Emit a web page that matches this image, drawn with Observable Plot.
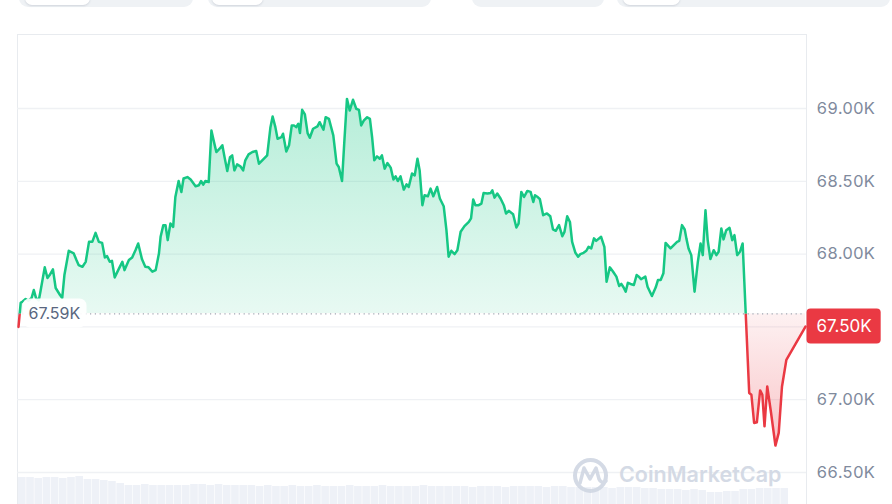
<!DOCTYPE html>
<html><head><meta charset="utf-8">
<script src="https://cdn.jsdelivr.net/npm/d3@7"></script>
<script src="https://cdn.jsdelivr.net/npm/@observablehq/plot@0.6"></script>
<style>
html,body{margin:0;padding:0;background:#fff;}
#wrap{position:relative;width:892px;height:504px;overflow:hidden;font-family:Inter,sans-serif;}
.tab{position:absolute;top:-12px;height:19px;background:#eff2f5;border-radius:9px;}
.pill{position:absolute;top:-12px;height:17px;background:#fff;border-radius:7px;box-shadow:0 1px 2px rgba(88,102,126,0.2);}
#vol{position:absolute;left:0;top:472px;}
#main{position:absolute;left:0;top:0;}
</style></head><body>
<div id="wrap">
  <div class="tab" style="left:19px;width:174px"></div><div class="pill" style="left:25px;width:65px"></div>
  <div class="tab" style="left:208px;width:223px"></div><div class="pill" style="left:212px;width:51px"></div>
  <div class="tab" style="left:472px;width:132px"></div>
  <div class="tab" style="left:617px;width:273px"></div><div class="pill" style="left:623px;width:57px"></div>
  <div id="vol"></div>
  <div id="main"></div>
</div>
<script>
// time in minutes since start of the 24h window
const minutes = [0,4,7,13,18,24,28,32,37,40,48,53,57,63,68,76,80,84,92,101,106,110,117,123,129,135,141,147,153,158,162,167,171,176,184,190,194,202,208,214,219,226,232,238,245,251,257,260,265,269,273,278,283,287,293,298,302,309,315,324,330,334,338,342,348,353,357,362,368,373,377,382,387,391,395,400,406,411,415,421,428,435,440,446,455,461,465,470,474,481,484,490,495,500,504,508,512,515,519,524,529,533,539,547,551,558,562,568,576,582,586,592,596,601,606,612,618,623,627,632,638,643,647,651,656,661,665,670,675,681,686,690,694,699,705,710,714,720,725,730,734,739,743,749,754,759,766,771,778,783,787,792,798,803,809,816,824,828,832,836,842,847,851,858,864,867,871,876,882,888,892,897,905,911,915,920,925,931,937,942,945,950,954,960,967,973,978,983,989,995,999,1004,1009,1013,1019,1024,1028,1034,1039,1043,1048,1053,1057,1066,1072,1076,1082,1088,1094,1099,1103,1107,1111,1115,1120,1126,1131,1135,1139,1147,1151,1159,1166,1170,1175,1180,1184,1193,1199,1205,1209,1214,1219,1222,1226,1231,1237,1243,1248,1252,1257,1261,1266,1272,1277,1281,1286,1290,1295,1301,1306,1310,1315,1320,1325,1337,1341,1346,1351,1357,1361,1365,1370,1377,1385,1391,1397,1405,1440];
// price in USD
const prices = [67500,67665,67673,67692,67680,67699,67753,67699,67682,67740,67909,67836,67856,67895,67767,67719,67699,67856,68023,68005,67959,67925,67913,67947,68084,68084,68146,68084,68077,67977,67986,67947,67954,67840,67902,67947,67890,67959,67977,68027,68073,67964,67913,67909,67879,67890,68005,68119,68199,68199,68096,68210,68187,68392,68502,68427,68519,68529,68512,68466,68473,68502,68477,68502,68495,68849,68781,68701,68724,68747,68666,68571,68666,68678,68575,68616,68603,68575,68644,68685,68701,68708,68621,68644,68678,68872,68945,68872,68792,68803,68827,68705,68747,68884,68884,68872,68895,68831,68991,68959,68831,68799,68861,68877,68906,68854,68940,68929,68815,68621,68598,68502,68760,69066,68986,69060,68998,68991,68884,68918,68940,68929,68803,68644,68671,68655,68678,68587,68625,68594,68512,68534,68502,68534,68443,68479,68461,68553,68541,68655,68575,68336,68404,68397,68450,68397,68461,68382,68329,68164,67982,68023,68000,68027,68153,68192,68221,68245,68375,68336,68336,68347,68420,68416,68420,68438,68388,68416,68382,68336,68279,68297,68274,68183,68210,68427,68392,68434,68427,68358,68404,68392,68377,68267,68279,68260,68169,68160,68199,68123,68153,68260,68221,68084,68009,67982,68000,68009,68023,68050,68039,68108,68091,68119,68050,67810,67909,67879,67845,67781,67795,67772,67742,67803,67795,67788,67856,67845,67827,67845,67776,67712,67772,67822,67822,67868,68077,68039,68062,68084,68091,68199,68169,68108,68039,67993,67742,67947,68073,67993,68301,68096,67966,68027,67993,68016,68176,68101,68164,68180,68096,68130,67993,68016,68073,67046,67034,66840,66845,67064,67034,66817,67091,66909,66685,66772,67091,67274,67502];
const baseline = 67590;   // opening price "67.59K"
const lastPrice = 67502;  // current price "67.50K"
const gridTicks = [66500,67000,67500,68000,68500,69000];
const labelTicks = [66500,67000,68000,68500,69000]; // 67.50K is hidden under the price tag
// volume per 15-minute bucket (relative units)
const volume = [27,27,26,27,27,26,27,28,25,25,24,23,21,19,19,20,19,19,19,19,19,20,20,19,20,19,19,19,
  19,18,19,18,18,19,18,18,19,18,18,18,19,18,18,18,19,18,18,18,18,19,18,18,
  18,18,18,17,18,18,18,17,18,18,18,18,17,18,18,
  17,17,17,17,17,16,17,17,17,16,16,
  15,15,15,14,15,14,
  12,12,13,13,
  15,15,16,16,
  16,16];

const green = "#16c784", red = "#ea3943";
const data = minutes.map((t,i)=>({t, p: prices[i]}));
const fmtK = d => (d/1000).toFixed(2) + "K";

// volume strip
const volData = volume.map((v,i)=>({t0:i*15, t1:i*15+15, v}));
const volChart = Plot.plot({
  width: 892, height: 32, margin: 0,
  style:{background:"transparent"},
  x:{domain:[0,1440], range:[18,805], axis:null},
  y:{domain:[0,32], range:[32,0], axis:null},
  marks:[ Plot.rectY(volData,{x1:"t0", x2:"t1", y:"v", fill:"#eef1f7", insetRight:0.6}) ]
});
document.getElementById("vol").appendChild(volChart);

const chart = Plot.plot({
  width: 892, height: 506,
  marginTop: 34, marginRight: 86, marginBottom: 0, marginLeft: 17,
  style:{fontFamily:"Inter, sans-serif", fontSize:"16px", background:"transparent", overflow:"visible"},
  x:{domain:[0,1440], range:[18,805], axis:null},
  y:{domain:[66500,69000], range:[472,108], axis:null},
  marks:[
    Plot.frame({stroke:"#e8ebef"}),
    Plot.ruleY(gridTicks,{stroke:"#eff1f4", strokeWidth:1.3}),
    Plot.areaY(data,{x:"t", y1:baseline, y2:"p", fill:"url(#gradUp)"}),
    Plot.areaY(data,{x:"t", y1:baseline, y2:"p", fill:"url(#gradDown)"}),
    Plot.lineY(data,{x:"t", y:"p", stroke:green, strokeWidth:2.5, strokeLinejoin:"round"}),
    Plot.lineY(data,{x:"t", y:"p", stroke:red, strokeWidth:2.5, strokeLinejoin:"round"}),
    Plot.ruleY([baseline],{x1:0, x2:1440, stroke:"#a1a7b3", strokeWidth:1.2, strokeDasharray:"1.2,3.6"}),
    Plot.axisY(labelTicks,{anchor:"right", label:null, tickSize:0, tickPadding:10, tickFormat:fmtK, fill:"#808a9d", fontSize:16.5}),
    Plot.text([baseline],{x:0, y:d=>d, text:fmtK, dx:10, textAnchor:"start", fill:"#58667e", fontSize:16}),
    Plot.text([lastPrice],{x:1440, y:d=>d, text:fmtK, dx:11, textAnchor:"start", fill:"#ffffff", fontSize:17})
  ]
});
document.getElementById("main").appendChild(chart);

// gradients, clipping and label boxes
const ys = chart.scale("y");
const yb = ys.apply(baseline);
const svg = d3.select(chart);
const defs = svg.insert("defs", ":first-child");
const gu = defs.append("linearGradient").attr("id","gradUp").attr("gradientUnits","userSpaceOnUse")
  .attr("x1",0).attr("x2",0).attr("y1",ys.apply(69100)).attr("y2",yb);
gu.append("stop").attr("offset",0).attr("stop-color",green).attr("stop-opacity",0.32);
gu.append("stop").attr("offset",1).attr("stop-color",green).attr("stop-opacity",0.1);
const gd = defs.append("linearGradient").attr("id","gradDown").attr("gradientUnits","userSpaceOnUse")
  .attr("x1",0).attr("x2",0).attr("y1",yb).attr("y2",ys.apply(66650));
gd.append("stop").attr("offset",0).attr("stop-color",red).attr("stop-opacity",0.07);
gd.append("stop").attr("offset",1).attr("stop-color",red).attr("stop-opacity",0.3);
defs.append("clipPath").attr("id","clipUp").append("rect").attr("x",0).attr("y",0).attr("width",892).attr("height",yb);
defs.append("clipPath").attr("id","clipDown").append("rect").attr("x",0).attr("y",yb).attr("width",892).attr("height",506-yb);
const areas = chart.querySelectorAll('g[aria-label="area"]');
areas[0].setAttribute("clip-path","url(#clipUp)");
areas[1].setAttribute("clip-path","url(#clipDown)");
const lines = chart.querySelectorAll('g[aria-label="line"]');
lines[0].setAttribute("clip-path","url(#clipUp)");
lines[1].setAttribute("clip-path","url(#clipDown)");

const texts = chart.querySelectorAll('g[aria-label="text"]');
function boxBehind(g, padL, padR, h, rx, fill, op){
  const t = g.querySelector("text");
  const b = t.getBBox();
  const cy = b.y + b.height/2;
  const r = document.createElementNS("http://www.w3.org/2000/svg","rect");
  r.setAttribute("x", b.x - padL); r.setAttribute("y", cy - h/2);
  r.setAttribute("width", b.width + padL + padR); r.setAttribute("height", h);
  r.setAttribute("rx", rx); r.setAttribute("fill", fill); r.setAttribute("fill-opacity", op);
  const tr = t.getAttribute("transform");
  if (tr) r.setAttribute("transform", tr);
  t.parentNode.insertBefore(r, t);
}
boxBehind(texts[0], 6, 6, 29, 7, "#ffffff", 0.92);
boxBehind(texts[1], 10, 9, 35, 4, red, 1);

// watermark
const wm = svg.append("g").attr("opacity",0.9);
wm.append("circle").attr("cx",590.5).attr("cy",475.5).attr("r",15.5).attr("fill","none").attr("stroke","#d0d7e3").attr("stroke-width",4);
wm.append("path").attr("d","M580,483 L584,468 L590,479 L596,468 L599,479 Q601,484 606,481").attr("fill","none").attr("stroke","#d0d7e3").attr("stroke-width",3.5).attr("stroke-linejoin","round").attr("stroke-linecap","round");
wm.append("text").attr("x",619).attr("y",482).attr("text-anchor","start").attr("font-size",21.5).attr("font-weight",600).attr("fill","#d0d7e3").attr("font-family","Inter, sans-serif").text("CoinMarketCap");
</script>
</body></html>
